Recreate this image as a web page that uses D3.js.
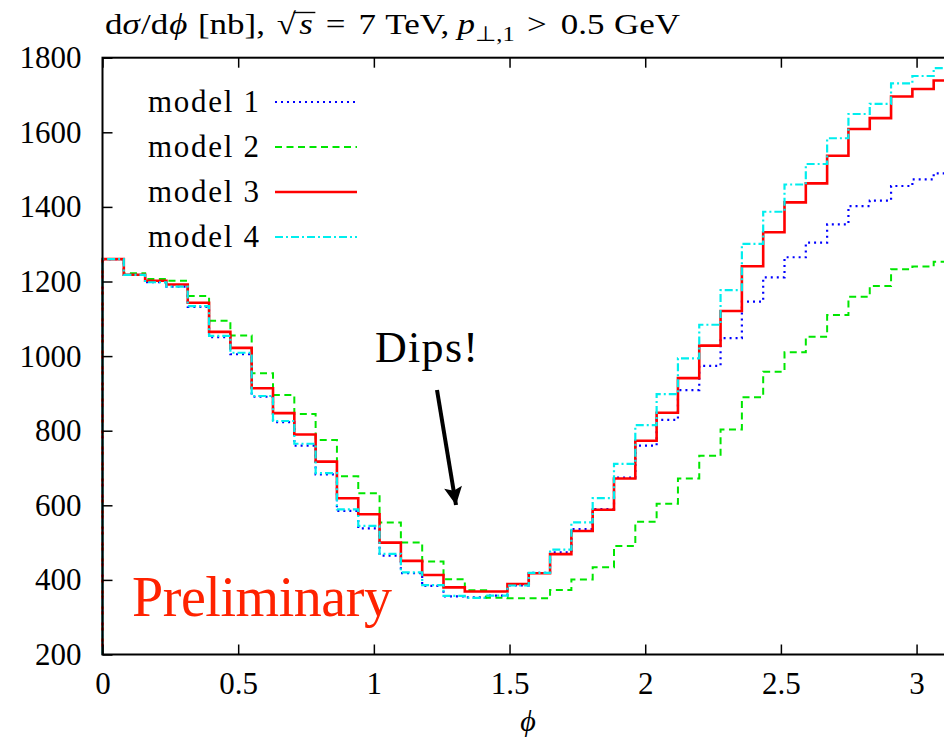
<!DOCTYPE html>
<html>
<head>
<meta charset="utf-8">
<script src="https://cdn.jsdelivr.net/npm/d3@7/dist/d3.min.js"></script>
<style>
  html, body { margin: 0; padding: 0; background: #fff; }
  svg { display: block; }
  text { font-family: "Liberation Serif", "Times New Roman", serif; fill: #000; }
</style>
</head>
<body>
<svg id="chart" width="944" height="740"></svg>
<script>
// Azimuthal distribution, 40 equal bins in phi from 0 to pi
const nBins = 40;
const phiMax = Math.PI;
const binLow = d3.range(nBins).map(i => i * phiMax / nBins);

const model1 = [1260, 1218, 1198, 1186, 1132, 1051, 1005, 891, 823, 760,
                683, 585, 538, 465, 418, 384, 356, 353, 358, 385,
                419, 474, 536, 590, 674, 760, 829, 909, 974, 1048,
                1146, 1211, 1265, 1304, 1353, 1402, 1417, 1456, 1474, 1490];
const model2 = [1260, 1222, 1207, 1202, 1161, 1095, 1055, 954, 896, 845,
                775, 678, 632, 554, 500, 449, 402, 372, 352, 351,
                351, 373, 401, 434, 491, 556, 604, 672, 733, 803,
                890, 958, 1010, 1052, 1110, 1159, 1188, 1233, 1240, 1253];
const model3 = [1260, 1218, 1202, 1192, 1143, 1065, 1022, 914, 847, 790,
                717, 619, 576, 500, 451, 413, 380, 369, 369, 389,
                418, 469, 531, 588, 672, 773, 848, 941, 1028, 1121,
                1241, 1332, 1412, 1463, 1537, 1609, 1638, 1696, 1716, 1739];
const model4 = [1260, 1218, 1198, 1186, 1134, 1054, 1009, 893, 826, 765,
                686, 589, 545, 470, 420, 386, 357, 352, 358, 385,
                419, 481, 554, 619, 711, 815, 898, 994, 1084, 1177,
                1301, 1387, 1460, 1515, 1584, 1649, 1676, 1731, 1751, 1772];

const seriesNames = ["model 1", "model 2", "model 3", "model 4"];
const xTicks = [0, 0.5, 1, 1.5, 2, 2.5, 3];
const yTicks = [200, 400, 600, 800, 1000, 1200, 1400, 1600, 1800];

const styles = [
  { color: "#0000ff", width: 2.2, dash: "2,4" },
  { color: "#00e600", width: 2, dash: "7,4.5" },
  { color: "#ff0000", width: 2.6, dash: null },
  { color: "#00eeee", width: 2.2, dash: "8,3,2,3" }
];

const svg = d3.select("#chart");
const plot = { left: 102.5, top: 57.7, right: 955, bottom: 654.5 };

const x = d3.scaleLinear().domain([0, phiMax]).range([plot.left, plot.right]);
const y = d3.scaleLinear().domain([200, 1800]).range([plot.bottom, plot.top]);

// Histogram steps, rising from the lower edge of the frame at phi = 0
const line = d3.line()
  .x(d => x(d[0]))
  .y(d => y(d[1]))
  .curve(d3.curveStepAfter);

function stepPoints(vals) {
  const pts = [[0, y.domain()[0]]];
  vals.forEach((v, i) => pts.push([binLow[i], v]));
  pts.push([phiMax, vals[vals.length - 1]]);
  return pts;
}

const allSeries = [model1, model2, model3, model4];

const gLines = svg.append("g");
allSeries.forEach((vals, i) => {
  const st = styles[i];
  const pts = stepPoints(vals);
  const path = gLines.append("path")
    .attr("d", "M" + x(0) + "," + y(y.domain()[0]) + "L" + line(pts.slice(1)).slice(1))
    .attr("fill", "none")
    .attr("stroke", st.color)
    .attr("stroke-width", st.width)
    .attr("stroke-linejoin", "miter");
  if (st.dash) path.attr("stroke-dasharray", st.dash);
});

// Axes with inward ticks
const axisFont = 31;
const gLeft = svg.append("g").attr("transform", `translate(${plot.left},0)`)
  .call(d3.axisLeft(y).tickValues(yTicks).tickSizeInner(-10).tickSizeOuter(0).tickPadding(21).tickFormat(d3.format("d")));
const gBottom = svg.append("g").attr("transform", `translate(0,${plot.bottom})`)
  .call(d3.axisBottom(x).tickValues(xTicks).tickSizeInner(-10).tickSizeOuter(0).tickPadding(17).tickFormat(d => String(d)));
const gTop = svg.append("g").attr("transform", `translate(0,${plot.top})`)
  .call(d3.axisTop(x).tickValues(xTicks).tickSizeInner(-10).tickSizeOuter(0).tickFormat(""));
const gRight = svg.append("g").attr("transform", `translate(${plot.right},0)`)
  .call(d3.axisRight(y).tickValues(yTicks).tickSizeInner(-10).tickSizeOuter(0).tickFormat(""));

[gLeft, gBottom, gTop, gRight].forEach(g => {
  g.select(".domain").remove();
  g.selectAll(".tick line").attr("stroke", "#000").attr("stroke-width", 1.5);
  g.selectAll(".tick text")
    .style("font-family", '"Liberation Serif", "Times New Roman", serif')
    .style("font-size", axisFont + "px")
    .attr("fill", "#000");
});

// Frame
svg.append("rect")
  .attr("x", plot.left).attr("y", plot.top)
  .attr("width", plot.right - plot.left).attr("height", plot.bottom - plot.top)
  .attr("fill", "none").attr("stroke", "#000").attr("stroke-width", 2);

// Legend
const legend = svg.append("g");
const legY0 = 102, legDy = 45;
seriesNames.forEach((name, i) => {
  const st = styles[i];
  const yy = legY0 + i * legDy;
  legend.append("text")
    .attr("x", 259).attr("y", yy).attr("dy", "0.33em")
    .attr("text-anchor", "end")
    .style("font-size", "31px")
    .attr("textLength", 111)
    .text(name);
  const l = legend.append("line")
    .attr("x1", 275).attr("x2", 357).attr("y1", yy).attr("y2", yy)
    .attr("stroke", st.color).attr("stroke-width", st.width);
  if (st.dash) l.attr("stroke-dasharray", st.dash);
});

// Title: pieces laid out left to right, each after a given gap,
// then widened horizontally to the wide math typeface proportions
const titleY = 34;
const titleX0 = 105;
const title = svg.append("g").style("font-size", "30px");
const titlePieces = [
  { s: "d", gap: 0 },
  { s: "σ", it: true, gap: 0 },
  { s: "/d", gap: 1 },
  { s: "ϕ", it: true, gap: 1 },
  { s: "[nb],", gap: 9 },
  { s: "√", gap: 10, sqrt: true },
  { s: "s", it: true, gap: 3, under: true },
  { s: "=", gap: 11 },
  { s: "7", gap: 11 },
  { s: "TeV,", gap: 8 },
  { s: "p", it: true, gap: 7 },
  { s: "⊥,1", gap: 0, dy: 7, size: "21px" },
  { s: ">", gap: 11 },
  { s: "0.5", gap: 12 },
  { s: "GeV", gap: 8 }
];
let cx = titleX0;
let barStart = 0, barEnd = 0;
titlePieces.forEach(p => {
  cx += p.gap;
  const t = title.append("text")
    .attr("x", cx).attr("y", titleY + (p.dy || 0))
    .text(p.s);
  if (p.it) t.style("font-style", "italic");
  if (p.size) t.style("font-size", p.size);
  const w = t.node().getComputedTextLength();
  if (p.sqrt) barStart = cx + w - 2;
  if (p.under) barEnd = cx + w + 2;
  cx += w;
});
// overbar of the square root
title.append("line")
  .attr("x1", barStart).attr("x2", barEnd)
  .attr("y1", 12.5).attr("y2", 12.5)
  .attr("stroke", "#000").attr("stroke-width", 1.4);
const titleStretch = (680 - titleX0) / (cx - titleX0);
title.attr("transform", `translate(${titleX0},0) scale(${titleStretch},1) translate(${-titleX0},0)`);

// x-axis label
svg.append("text")
  .attr("x", 528).attr("y", 731)
  .attr("text-anchor", "middle")
  .style("font-size", "30px").style("font-style", "italic")
  .text("ϕ");

// Annotation
svg.append("text")
  .attr("x", 375).attr("y", 362)
  .style("font-size", "44px")
  .attr("textLength", 103)
  .text("Dips!");

svg.append("defs").append("marker")
  .attr("id", "arrowHead")
  .attr("viewBox", "0 0 10 10")
  .attr("refX", 10).attr("refY", 5)
  .attr("markerWidth", 6.5).attr("markerHeight", 4.5)
  .attr("markerUnits", "strokeWidth")
  .attr("orient", "auto")
  .append("path").attr("d", "M0,0 L10,5 L0,10 L2,5 Z").attr("fill", "#000");

svg.append("line")
  .attr("x1", 437).attr("y1", 390)
  .attr("x2", 456).attr("y2", 505)
  .attr("stroke", "#000").attr("stroke-width", 4)
  .attr("marker-end", "url(#arrowHead)");

svg.append("text")
  .attr("x", 132).attr("y", 616)
  .style("font-size", "56px")
  .style("fill", "#ff2200")
  .attr("textLength", 260)
  .text("Preliminary");
</script>
</body>
</html>
